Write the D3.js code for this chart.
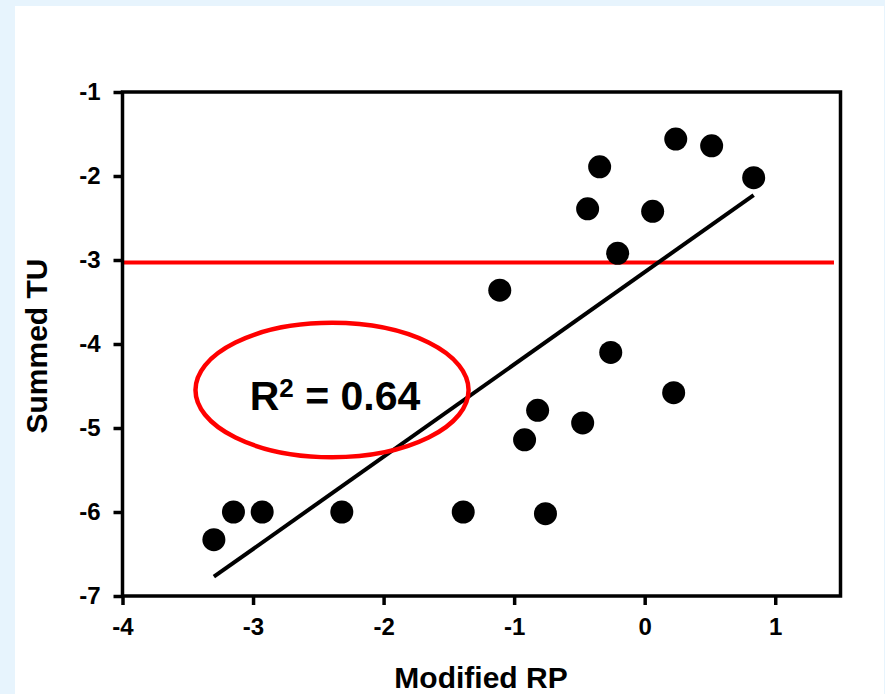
<!DOCTYPE html>
<html>
<head>
<meta charset="utf-8">
<script src="https://cdn.jsdelivr.net/npm/d3@7"></script>
<style>
  body { margin: 0; background: #e7f4fd; }
  svg { display: block; }
  text { font-family: "Liberation Sans", Arial, sans-serif; font-weight: bold; }
</style>
</head>
<body>
<div id="chart"></div>
<script>
// data
var rpValues = [-3.30, -3.15, -2.93, -2.32, -1.39, -0.76, -1.11, -0.92, -0.82, -0.475,
                0.222, -0.26, -0.207, -0.437, -0.345, 0.061, 0.238, 0.513, 0.835]
var tuValues = [-6.33, -6.00, -6.00, -6.00, -6.00, -6.02, -3.36, -5.14, -4.79, -4.94,
                -4.58, -4.10, -2.92, -2.39, -1.89, -2.42, -1.56, -1.64, -2.02]
var xTicks = [-4, -3, -2, -1, 0, 1]
var yTicks = [-7, -6, -5, -4, -3, -2, -1]
var fitRange = [-3.30, 0.835]
var fitIntercept = -3.144, fitSlope = 1.099
var threshold = -3.03
var thresholdRange = [-4, 1.45]
var r2Label = "0.64"
var ellipseCenter = [-2.395, -4.548], ellipseRadii = [1.046, 0.80]

var width = 885, height = 694
var margin = { top: 92, right: 44.5, bottom: 98, left: 122.5 }

var svg = d3.select('#chart').append('svg')
    .attr('width', width).attr('height', height)

// white panel
svg.append('rect')
    .attr('x', 15).attr('y', 6)
    .attr('width', 869).attr('height', height - 6)
    .style('fill', '#ffffff')

var xScale = d3.scaleLinear()
    .domain([-4, 1.5])
    .range([margin.left, width - margin.right])

var yScale = d3.scaleLinear()
    .domain([-7, -1])
    .range([height - margin.bottom, margin.top])

var g = svg.append('g')

// red threshold line
g.append('line')
    .attr('x1', xScale(thresholdRange[0])).attr('x2', xScale(thresholdRange[1]))
    .attr('y1', yScale(threshold)).attr('y2', yScale(threshold))
    .style('stroke', '#ff0000').style('stroke-width', 4)

// regression line
g.append('line')
    .attr('x1', xScale(fitRange[0])).attr('y1', yScale(fitIntercept + fitSlope * fitRange[0]))
    .attr('x2', xScale(fitRange[1])).attr('y2', yScale(fitIntercept + fitSlope * fitRange[1]))
    .style('stroke', '#000').style('stroke-width', 4)

// points
g.selectAll('circle')
    .data(rpValues)
    .enter()
    .append('circle')
    .attr('cx', function(d){ return xScale(d) })
    .attr('cy', function(d, i){ return yScale(tuValues[i]) })
    .attr('r', 11.5)
    .style('fill', '#000')

// ellipse and R2 label
var ex = xScale(ellipseCenter[0]), ey = yScale(ellipseCenter[1])
g.append('ellipse')
    .attr('cx', ex).attr('cy', ey)
    .attr('rx', xScale(ellipseRadii[0]) - xScale(0))
    .attr('ry', yScale(0) - yScale(ellipseRadii[1]))
    .style('fill', 'none')
    .style('stroke', '#ff0000').style('stroke-width', 4.5)

var r2 = g.append('text')
    .attr('x', ex + 3).attr('y', ey + 20)
    .attr('text-anchor', 'middle')
    .style('font-size', '41px')
r2.append('tspan').text('R')
r2.append('tspan').attr('dy', -13).style('font-size', '26px').text('2')
r2.append('tspan').attr('dy', 13).text(' = ' + r2Label)

// axes, plain hyphen minus like the original
var fmt = function(d){ return String(d) }
var xAxis = d3.axisBottom(xScale)
    .tickValues(xTicks)
    .tickSize(9)
    .tickSizeOuter(0)
    .tickPadding(13)
    .tickFormat(fmt)
var xAxisG = svg.append('g')
    .attr('transform', 'translate(0,' + (height - margin.bottom) + ')')
    .call(xAxis)

var yAxis = d3.axisLeft(yScale)
    .tickValues(yTicks)
    .tickSize(9)
    .tickSizeOuter(0)
    .tickPadding(13)
    .tickFormat(fmt)
var yAxisG = svg.append('g')
    .attr('transform', 'translate(' + margin.left + ',0)')
    .call(yAxis)

svg.selectAll('.domain').remove()
svg.selectAll('.tick line').style('stroke', '#000').style('stroke-width', 3.5)
xAxisG.selectAll('.tick text').style('font-size', '24px').style('font-family', null).attr('fill', '#000')
yAxisG.selectAll('.tick text').style('font-size', '24px').style('font-family', null).attr('fill', '#000')

// frame
svg.append('rect')
    .attr('x', xScale(-4)).attr('y', yScale(-1))
    .attr('width', xScale(1.5) - xScale(-4))
    .attr('height', yScale(-7) - yScale(-1))
    .style('fill', 'none')
    .style('stroke', '#000').style('stroke-width', 3.5)

// axis titles
svg.append('text')
    .attr('x', 481).attr('y', 688)
    .attr('text-anchor', 'middle')
    .style('font-size', '30px')
    .text('Modified RP')

svg.append('text')
    .attr('transform', 'translate(47,346) rotate(-90)')
    .attr('text-anchor', 'middle')
    .style('font-size', '30px')
    .text('Summed TU')
</script>
</body>
</html>
